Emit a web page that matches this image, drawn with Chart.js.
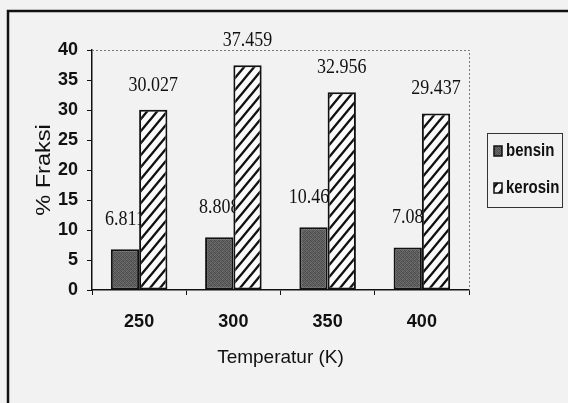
<!DOCTYPE html>
<html>
<head>
<meta charset="utf-8">
<script src="https://cdn.jsdelivr.net/npm/chart.js@4.4.1/dist/chart.umd.min.js"></script>
<style>
  html, body { margin: 0; padding: 0; background: #f2f2f2; }
  #wrap { width: 568px; height: 403px; position: relative; }
</style>
</head>
<body>
<div id="wrap"><canvas id="c" width="568" height="403"></canvas></div>
<script>
// Fraction yield (%) per product at each reaction temperature
const temperatures = ['250', '300', '350', '400'];
const bensin = [6.811, 8.808, 10.468, 7.08];
const kerosin = [30.027, 37.459, 32.956, 29.437];
const seriesNames = ['bensin', 'kerosin'];
const yTicks = [0, 5, 10, 15, 20, 25, 30, 35, 40];
const yTitle = '% Fraksi';
const xTitle = 'Temperatur (K)';

const paper = '#f2f2f2';
const sans = "'Liberation Sans', Arial, sans-serif";
const serif = "'Liberation Serif', 'Times New Roman', serif";

const canvas = document.getElementById('c');
const ctx = canvas.getContext('2d');

// diagonal "///" hatch used for kerosin
function hatchPattern() {
  const w = 10, h = 12;
  const t = document.createElement('canvas');
  t.width = w; t.height = h;
  const g = t.getContext('2d');
  g.fillStyle = '#fafafa';
  g.fillRect(0, 0, w, h);
  g.strokeStyle = '#111';
  g.lineWidth = 2.4;
  g.beginPath();
  for (const dx of [-w, 0, w]) {
    for (const dy of [-h, 0, h]) {
      g.moveTo(dx, h + dy);
      g.lineTo(w + dx, dy);
    }
  }
  g.stroke();
  return ctx.createPattern(t, 'repeat');
}

// speckled dark grey used for bensin
function speckle() {
  const levels = [
    [0x55, 0x6a, 0x4c, 0x62],
    [0x70, 0x50, 0x66, 0x48],
    [0x4e, 0x64, 0x58, 0x6e],
    [0x66, 0x4a, 0x72, 0x56]
  ];
  const t = document.createElement('canvas');
  t.width = 4; t.height = 4;
  const g = t.getContext('2d');
  levels.forEach((row, y) => row.forEach((v, x) => {
    g.fillStyle = `rgb(${v},${v},${v})`;
    g.fillRect(x, y, 1, 1);
  }));
  return ctx.createPattern(t, 'repeat');
}

const bensinFill = speckle();
const kerosinFill = hatchPattern();

// text drawn slightly elongated, the way the printed figure sets it
function tallText(c, text, x, y, sx, sy) {
  c.save();
  c.translate(x, y);
  c.scale(sx, sy);
  c.fillText(text, 0, 0);
  c.restore();
}

function drawLabels(chart, dsIndex, values, lift) {
  const c = chart.ctx;
  const meta = chart.getDatasetMeta(dsIndex);
  c.save();
  c.font = `18px ${serif}`;
  c.fillStyle = '#111';
  c.textAlign = 'center';
  c.textBaseline = 'middle';
  meta.data.forEach((bar, i) => {
    tallText(c, String(values[i]), bar.x, bar.y - lift, 1, 1.2);
  });
  c.restore();
}

const framePlugin = {
  id: 'frame',
  beforeDraw(chart) {
    const c = chart.ctx;
    c.save();
    c.fillStyle = paper;
    c.fillRect(0, 0, chart.width, chart.height);
    // outer frame: left and top rules
    c.strokeStyle = '#111';
    c.lineWidth = 2.5;
    c.beginPath();
    c.moveTo(8, chart.height);
    c.lineTo(8, 11);
    c.lineTo(chart.width, 11);
    c.stroke();
    c.restore();
  },
  beforeDatasetsDraw(chart) {
    const c = chart.ctx;
    const a = chart.chartArea;
    c.save();
    c.strokeStyle = '#777';
    c.lineWidth = 1;
    c.setLineDash([2, 2]);
    c.beginPath();
    c.moveTo(a.left, a.top + 0.5);
    c.lineTo(a.right + 0.5, a.top + 0.5);
    c.lineTo(a.right + 0.5, a.bottom);
    c.stroke();
    c.restore();

    // value axis title, rotated
    c.save();
    c.translate(50, (a.top + a.bottom) / 2);
    c.rotate(-Math.PI / 2);
    c.font = `21px ${sans}`;
    c.fillStyle = '#111';
    c.textAlign = 'center';
    c.textBaseline = 'alphabetic';
    tallText(c, yTitle, 0, 0, 1.12, 1);
    c.restore();

    // bensin values sit behind the kerosin bars
    drawLabels(chart, 0, bensin, 30);
  },
  afterDatasetsDraw(chart) {
    drawLabels(chart, 1, kerosin, 25);
  },
  afterDraw(chart) {
    // boxed legend at the right
    const c = chart.ctx;
    c.save();
    c.fillStyle = paper;
    c.strokeStyle = '#333';
    c.lineWidth = 1;
    c.fillRect(487.5, 133.5, 75, 74);
    c.strokeRect(487.5, 133.5, 75, 74);
    const rows = [151, 188];
    chart.data.datasets.forEach((ds, i) => {
      const y = rows[i];
      c.fillStyle = ds.backgroundColor;
      c.fillRect(494, y - 5, 8, 10);
      c.strokeStyle = '#111';
      c.lineWidth = 1.5;
      c.strokeRect(494, y - 5, 8, 10);
      c.fillStyle = '#111';
      c.font = `bold 15px ${sans}`;
      c.textAlign = 'left';
      c.textBaseline = 'middle';
      tallText(c, ds.label, 506, y, 1, 1.2);
    });
    c.restore();
  }
};

new Chart(canvas, {
  type: 'bar',
  data: {
    labels: temperatures,
    datasets: [
      {
        label: seriesNames[0],
        data: bensin,
        backgroundColor: bensinFill,
        borderColor: '#111',
        borderWidth: 2,
        borderSkipped: false
      },
      {
        label: seriesNames[1],
        data: kerosin,
        backgroundColor: kerosinFill,
        borderColor: '#111',
        borderWidth: 2,
        borderSkipped: false
      }
    ]
  },
  options: {
    responsive: false,
    animation: false,
    devicePixelRatio: 1,
    layout: { padding: { top: 50, right: 99, bottom: 0, left: 0 } },
    datasets: { bar: { categoryPercentage: 0.6, barPercentage: 1.0 } },
    plugins: {
      legend: { display: false },
      tooltip: { enabled: false }
    },
    scales: {
      x: {
        afterFit(scale) { scale.height = 113; },
        grid: { drawOnChartArea: false, drawTicks: true, tickLength: 5, color: '#111', lineWidth: 1, offset: true },
        border: { display: true, color: '#111', width: 1.5 },
        ticks: { color: '#111', padding: 16, font: { family: sans, size: 18, weight: 'bold' } },
        title: {
          display: true,
          text: xTitle,
          color: '#111',
          font: { family: sans, size: 19 },
          padding: { top: 0, bottom: 34 }
        }
      },
      y: {
        min: 0,
        max: 40,
        afterFit(scale) { scale.width = 92; },
        afterBuildTicks(scale) { scale.ticks = yTicks.map(v => ({ value: v })); },
        grid: { drawOnChartArea: false, drawTicks: true, tickLength: 5, color: '#111', lineWidth: 1 },
        border: { display: true, color: '#111', width: 1.5 },
        ticks: { color: '#111', padding: 9, font: { family: sans, size: 18, weight: 'bold' } },
        title: { display: false }
      }
    }
  },
  plugins: [framePlugin]
});
</script>
</body>
</html>
